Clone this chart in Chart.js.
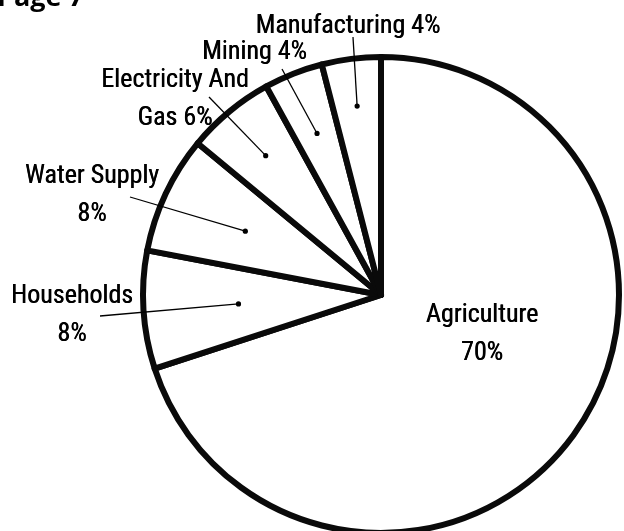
<!DOCTYPE html>
<html><head><meta charset="utf-8">
<style>
html,body{margin:0;padding:0;background:#fff;overflow:hidden;width:624px;height:531px}
#wrap{position:absolute;left:0;top:0;width:624px;height:540px}
</style>
<script src="https://cdn.jsdelivr.net/npm/chart.js@4.4.0/dist/chart.umd.min.js"></script>
</head><body>
<div id="wrap"><canvas id="c" width="624" height="540"></canvas></div>
<script>
// ---- data ----
const categories = ["Agriculture", "Households", "Water Supply", "Electricity And Gas", "Mining", "Manufacturing"];
const shares = [70, 8, 8, 6, 4, 4];
const labelLines = [["Agriculture", "70%"], ["Households", "8%"], ["Water Supply", "8%"], ["Electricity And", "Gas 6%"], ["Mining 4%"], ["Manufacturing 4%"]];
const titleText = "Page 7";

// ---- label layout (style) ----
const FONT = "'Liberation Sans Narrow', 'Roboto Condensed', 'DejaVu Sans Condensed', 'Liberation Sans', sans-serif";
const labelStyle = [
  {x: 482, y: 322, lh: 38, lead: null, dot: 0},
  {x: 72, y: 303, lh: 38, lead: [100, 316], dot: 0.60},
  {x: 92, y: 183, lh: 38, lead: [130, 197], dot: 0.63},
  {x: 175, y: 87, lh: 38, lead: [209, 97], dot: 0.76},
  {x: 254.5, y: 59, lh: 38, lead: [282, 69], dot: 0.73},
  {x: 348, y: 33, lh: 38, lead: [353, 37], dot: 0.80}
];

const labelPlugin = {
  id: 'pieLabels',
  afterDraw(chart) {
    const ctx = chart.ctx;
    const arcs = chart.getDatasetMeta(0).data;
    ctx.save();
    ctx.fillStyle = '#000';
    ctx.strokeStyle = '#000';
    ctx.textAlign = 'center';
    ctx.textBaseline = 'alphabetic';
    ctx.font = "26px " + FONT;
    arcs.forEach((arc, i) => {
      const st = labelStyle[i];
      const lines = labelLines[i];
      lines.forEach((t, j) => {
        ctx.fillText(t, st.x, st.y + j * st.lh);
        // slight thickening to mimic the heavier print
        ctx.fillText(t, st.x + 0.4, st.y + j * st.lh);
      });
      if (st.lead) {
        const mid = (arc.startAngle + arc.endAngle) / 2;
        const r = arc.outerRadius * st.dot;
        const dx = arc.x + Math.cos(mid) * r;
        const dy = arc.y + Math.sin(mid) * r;
        ctx.lineWidth = 1.3;
        ctx.beginPath();
        ctx.moveTo(st.lead[0], st.lead[1]);
        ctx.lineTo(dx, dy);
        ctx.stroke();
        ctx.beginPath();
        ctx.arc(dx, dy, 2.6, 0, Math.PI * 2);
        ctx.fill();
      }
    });
    // title
    ctx.textAlign = 'left';
    ctx.font = "bold 27px 'Open Sans', 'Liberation Sans', sans-serif";
    ctx.fillText(titleText, -3, 6);
    ctx.restore();
  }
};

new Chart(document.getElementById('c'), {
  type: 'pie',
  data: {
    labels: categories,
    datasets: [{
      data: shares,
      backgroundColor: '#ffffff',
      borderColor: '#0a0a0a',
      borderWidth: 6,
      hoverBorderWidth: 6,
      hoverOffset: 0,
      offset: 0,
      borderAlign: 'center',
      borderJoinStyle: 'round'
    }]
  },
  options: {
    responsive: false,
    animation: false,
    events: [],
    devicePixelRatio: 1,
    layout: {padding: {left: 140, right: 2, top: 54, bottom: 4}},
    plugins: {legend: {display: false}, tooltip: {enabled: false}, title: {display: false}}
  },
  plugins: [labelPlugin]
});
</script>
</body></html>
